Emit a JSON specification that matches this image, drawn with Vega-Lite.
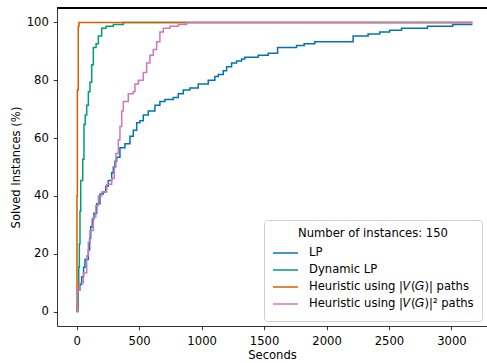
{
  "$schema": "https://vega.github.io/schema/vega-lite/v6.json",
  "width": 430,
  "height": 318,
  "autosize": {"type": "none"},
  "padding": {"left": 57, "top": 8, "right": 0, "bottom": 37},
  "config": {
    "font": "DejaVu Sans",
    "view": {"stroke": null},
    "axis": {
      "grid": false,
      "domainColor": "#000000",
      "domainWidth": 0.8,
      "tickColor": "#000000",
      "tickWidth": 0.8,
      "tickSize": 3.7,
      "labelFontSize": 11.6,
      "labelColor": "#000000",
      "titleFontSize": 11.6,
      "titleFontWeight": "normal",
      "titleColor": "#000000"
    }
  },
  "data": {
    "values": [
      {"method": "LP", "s": 0, "p": 0},
      {"method": "LP", "s": 3, "p": 1.33},
      {"method": "LP", "s": 9, "p": 7.33},
      {"method": "LP", "s": 25, "p": 9.33},
      {"method": "LP", "s": 40, "p": 12.0},
      {"method": "LP", "s": 55, "p": 15.33},
      {"method": "LP", "s": 66, "p": 18.0},
      {"method": "LP", "s": 93, "p": 21.33},
      {"method": "LP", "s": 103, "p": 25.33},
      {"method": "LP", "s": 112, "p": 29.33},
      {"method": "LP", "s": 125, "p": 32.0},
      {"method": "LP", "s": 138, "p": 34.0},
      {"method": "LP", "s": 160, "p": 37.33},
      {"method": "LP", "s": 186, "p": 40.67},
      {"method": "LP", "s": 213, "p": 41.33},
      {"method": "LP", "s": 233, "p": 43.33},
      {"method": "LP", "s": 253, "p": 45.33},
      {"method": "LP", "s": 280, "p": 48.0},
      {"method": "LP", "s": 293, "p": 50.0},
      {"method": "LP", "s": 306, "p": 52.0},
      {"method": "LP", "s": 320, "p": 53.33},
      {"method": "LP", "s": 346, "p": 56.67},
      {"method": "LP", "s": 386, "p": 58.0},
      {"method": "LP", "s": 426, "p": 60.67},
      {"method": "LP", "s": 453, "p": 62.67},
      {"method": "LP", "s": 480, "p": 65.33},
      {"method": "LP", "s": 506, "p": 66.0},
      {"method": "LP", "s": 533, "p": 68.0},
      {"method": "LP", "s": 573, "p": 69.33},
      {"method": "LP", "s": 626, "p": 71.33},
      {"method": "LP", "s": 666, "p": 72.67},
      {"method": "LP", "s": 706, "p": 73.33},
      {"method": "LP", "s": 773, "p": 74.0},
      {"method": "LP", "s": 813, "p": 75.33},
      {"method": "LP", "s": 853, "p": 76.67},
      {"method": "LP", "s": 906, "p": 77.33},
      {"method": "LP", "s": 973, "p": 78.67},
      {"method": "LP", "s": 1053, "p": 80.0},
      {"method": "LP", "s": 1106, "p": 81.33},
      {"method": "LP", "s": 1133, "p": 82.0},
      {"method": "LP", "s": 1173, "p": 83.33},
      {"method": "LP", "s": 1200, "p": 84.67},
      {"method": "LP", "s": 1240, "p": 86.0},
      {"method": "LP", "s": 1280, "p": 86.67},
      {"method": "LP", "s": 1320, "p": 87.33},
      {"method": "LP", "s": 1346, "p": 88.0},
      {"method": "LP", "s": 1453, "p": 88.67},
      {"method": "LP", "s": 1533, "p": 89.33},
      {"method": "LP", "s": 1608, "p": 91.33},
      {"method": "LP", "s": 1760, "p": 92.0},
      {"method": "LP", "s": 1821, "p": 92.67},
      {"method": "LP", "s": 1906, "p": 93.33},
      {"method": "LP", "s": 2213, "p": 95.33},
      {"method": "LP", "s": 2333, "p": 96.0},
      {"method": "LP", "s": 2426, "p": 96.67},
      {"method": "LP", "s": 2506, "p": 97.33},
      {"method": "LP", "s": 2600, "p": 98.0},
      {"method": "LP", "s": 2808, "p": 98.67},
      {"method": "LP", "s": 3010, "p": 99.33},
      {"method": "LP", "s": 3168, "p": 99.33},

      {"method": "Dynamic LP", "s": 0, "p": 0},
      {"method": "Dynamic LP", "s": 10, "p": 7.33},
      {"method": "Dynamic LP", "s": 16, "p": 15.33},
      {"method": "Dynamic LP", "s": 21, "p": 23.33},
      {"method": "Dynamic LP", "s": 26, "p": 34.67},
      {"method": "Dynamic LP", "s": 32, "p": 45.33},
      {"method": "Dynamic LP", "s": 48, "p": 52.67},
      {"method": "Dynamic LP", "s": 58, "p": 64.67},
      {"method": "Dynamic LP", "s": 68, "p": 68.0},
      {"method": "Dynamic LP", "s": 80, "p": 71.33},
      {"method": "Dynamic LP", "s": 93, "p": 76.0},
      {"method": "Dynamic LP", "s": 106, "p": 79.33},
      {"method": "Dynamic LP", "s": 120, "p": 85.33},
      {"method": "Dynamic LP", "s": 133, "p": 91.33},
      {"method": "Dynamic LP", "s": 155, "p": 92.67},
      {"method": "Dynamic LP", "s": 173, "p": 95.33},
      {"method": "Dynamic LP", "s": 200, "p": 98.0},
      {"method": "Dynamic LP", "s": 234, "p": 98.67},
      {"method": "Dynamic LP", "s": 293, "p": 99.33},
      {"method": "Dynamic LP", "s": 373, "p": 100},
      {"method": "Dynamic LP", "s": 3168, "p": 100},

      {"method": "Heuristic using |𝑉(𝐺)| paths", "s": 0, "p": 0},
      {"method": "Heuristic using |𝑉(𝐺)| paths", "s": 2, "p": 40.0},
      {"method": "Heuristic using |𝑉(𝐺)| paths", "s": 5, "p": 76.67},
      {"method": "Heuristic using |𝑉(𝐺)| paths", "s": 12, "p": 98.67},
      {"method": "Heuristic using |𝑉(𝐺)| paths", "s": 18, "p": 100},
      {"method": "Heuristic using |𝑉(𝐺)| paths", "s": 3168, "p": 100},

      {"method": "Heuristic using |𝑉(𝐺)|² paths", "s": 0, "p": 0},
      {"method": "Heuristic using |𝑉(𝐺)|² paths", "s": 5, "p": 7.33},
      {"method": "Heuristic using |𝑉(𝐺)|² paths", "s": 21, "p": 10.0},
      {"method": "Heuristic using |𝑉(𝐺)|² paths", "s": 53, "p": 13.33},
      {"method": "Heuristic using |𝑉(𝐺)|² paths", "s": 80, "p": 19.33},
      {"method": "Heuristic using |𝑉(𝐺)|² paths", "s": 93, "p": 24.0},
      {"method": "Heuristic using |𝑉(𝐺)|² paths", "s": 106, "p": 28.0},
      {"method": "Heuristic using |𝑉(𝐺)|² paths", "s": 133, "p": 32.67},
      {"method": "Heuristic using |𝑉(𝐺)|² paths", "s": 153, "p": 36.67},
      {"method": "Heuristic using |𝑉(𝐺)|² paths", "s": 173, "p": 40.0},
      {"method": "Heuristic using |𝑉(𝐺)|² paths", "s": 200, "p": 41.33},
      {"method": "Heuristic using |𝑉(𝐺)|² paths", "s": 240, "p": 44.0},
      {"method": "Heuristic using |𝑉(𝐺)|² paths", "s": 280, "p": 46.0},
      {"method": "Heuristic using |𝑉(𝐺)|² paths", "s": 301, "p": 50.0},
      {"method": "Heuristic using |𝑉(𝐺)|² paths", "s": 314, "p": 54.67},
      {"method": "Heuristic using |𝑉(𝐺)|² paths", "s": 333, "p": 59.33},
      {"method": "Heuristic using |𝑉(𝐺)|² paths", "s": 346, "p": 64.0},
      {"method": "Heuristic using |𝑉(𝐺)|² paths", "s": 360, "p": 69.33},
      {"method": "Heuristic using |𝑉(𝐺)|² paths", "s": 373, "p": 72.67},
      {"method": "Heuristic using |𝑉(𝐺)|² paths", "s": 413, "p": 75.33},
      {"method": "Heuristic using |𝑉(𝐺)|² paths", "s": 453, "p": 76.0},
      {"method": "Heuristic using |𝑉(𝐺)|² paths", "s": 466, "p": 78.67},
      {"method": "Heuristic using |𝑉(𝐺)|² paths", "s": 493, "p": 80.0},
      {"method": "Heuristic using |𝑉(𝐺)|² paths", "s": 533, "p": 82.67},
      {"method": "Heuristic using |𝑉(𝐺)|² paths", "s": 560, "p": 86.0},
      {"method": "Heuristic using |𝑉(𝐺)|² paths", "s": 586, "p": 88.67},
      {"method": "Heuristic using |𝑉(𝐺)|² paths", "s": 613, "p": 90.67},
      {"method": "Heuristic using |𝑉(𝐺)|² paths", "s": 640, "p": 93.33},
      {"method": "Heuristic using |𝑉(𝐺)|² paths", "s": 666, "p": 96.67},
      {"method": "Heuristic using |𝑉(𝐺)|² paths", "s": 693, "p": 98.0},
      {"method": "Heuristic using |𝑉(𝐺)|² paths", "s": 746, "p": 98.67},
      {"method": "Heuristic using |𝑉(𝐺)|² paths", "s": 813, "p": 99.33},
      {"method": "Heuristic using |𝑉(𝐺)|² paths", "s": 880, "p": 100},
      {"method": "Heuristic using |𝑉(𝐺)|² paths", "s": 3168, "p": 100}
    ]
  },
  "layer": [
    {
      "mark": {"type": "line", "interpolate": "step-after", "strokeWidth": 1.5},
      "encoding": {
        "x": {
          "field": "s", "type": "quantitative", "title": "Seconds",
          "scale": {"domain": [-158, 3285], "nice": false, "zero": false},
          "axis": {"values": [0, 500, 1000, 1500, 2000, 2500, 3000], "format": "d", "labelPadding": 6, "titlePadding": 2}
        },
        "y": {
          "field": "p", "type": "quantitative", "title": "Solved Instances (%)",
          "scale": {"domain": [-5, 105], "nice": false, "zero": false},
          "axis": {"values": [0, 20, 40, 60, 80, 100], "format": "d", "labelPadding": 5, "titlePadding": 5}
        },
        "color": {
          "field": "method", "type": "nominal",
          "scale": {
            "domain": ["LP", "Dynamic LP", "Heuristic using |𝑉(𝐺)| paths", "Heuristic using |𝑉(𝐺)|² paths"],
            "range": ["#0173b2", "#029e73", "#d55e00", "#cc78bc"]
          },
          "legend": {
            "title": "Number of instances: 150",
            "orient": "bottom-right",
            "offset": 5,
            "titleAnchor": "middle",
            "titleFontSize": 11.6,
            "titleFontWeight": "normal",
            "titleColor": "#000000",
            "titlePadding": 5,
            "labelFontSize": 11.6,
            "labelColor": "#000000",
            "labelLimit": 0,
            "labelOffset": 10,
            "symbolType": "stroke",
            "symbolSize": 625,
            "symbolStrokeWidth": 1.5,
            "clipHeight": 17,
            "rowPadding": 0,
            "fillColor": "#ffffff",
            "strokeColor": "#d0d0d0",
            "cornerRadius": 3,
            "padding": 8
          }
        }
      }
    },
    {
      "mark": {"type": "rule", "color": "#000000", "strokeWidth": 0.8},
      "encoding": {"y": {"datum": 105}}
    }
  ]
}
